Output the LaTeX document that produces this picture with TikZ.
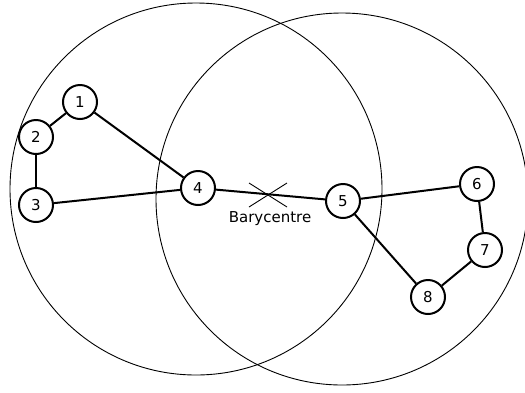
\documentclass[tikz,border=0pt]{standalone}
\usepackage{fontspec}
\setmainfont{DejaVu Sans}
\usepackage{tikz}
\usetikzlibrary{positioning}

\tikzset{vertex/.style={circle, draw, line width=2pt, minimum size=34pt, inner sep=0pt, font=\fontsize{15}{17}\selectfont},
  edge/.style={line width=2pt}}

\begin{document}
\begin{tikzpicture}[x=1pt, y=-1pt]
\useasboundingbox (0, 0) rectangle (525, 392);
\draw [line width=0.9pt] (196, 189) circle (186pt);
\draw [line width=0.9pt] (342, 199) circle (186pt);
\node [vertex] (n1) at (80, 102) {1};
\node [vertex] (n2) at (36, 137) {2};
\node [vertex] (n3) at (36, 205) {3};
\node [vertex] (n4) at (198, 188) {4};
\node [vertex] (n5) at (343, 201) {5};
\node [vertex] (n6) at (477, 184) {6};
\node [vertex] (n7) at (485, 250) {7};
\node [vertex] (n8) at (428, 297) {8};
\foreach \a/\b in {n1/n2, n1/n4, n2/n3, n3/n4, n4/n5, n5/n6, n5/n8, n6/n7, n7/n8} \draw [edge] (\a) -- (\b);
\coordinate (bary) at (268, 195);
\draw [line width=0.9pt] ([shift={(-19, -12)}]bary) -- ([shift={(19, 12)}]bary);
\draw [line width=0.9pt] ([shift={(-19, 12)}]bary) -- ([shift={(19, -12)}]bary);
\node [font=\fontsize{15}{17}\selectfont] (barylabel) at (270, 219) {Barycentre};
\end{tikzpicture}
\end{document}
